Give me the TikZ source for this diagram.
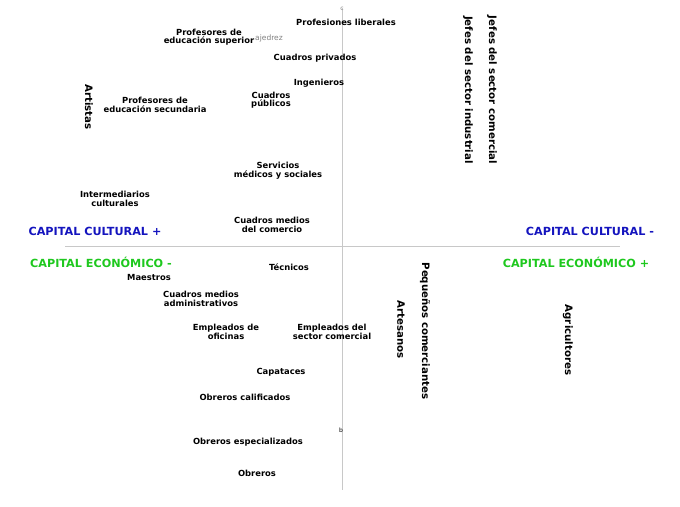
\documentclass[tikz,border=0pt]{standalone}
\usepackage{fontspec}
\setmainfont{DejaVu Sans}
\begin{document}
\begin{tikzpicture}[x=1pt,y=-1pt,
  lbl/.style={font=\bfseries\fontsize{8.4}{8.6}\selectfont,align=center,inner sep=0pt},
  big/.style={font=\bfseries\fontsize{10.2}{10}\selectfont,inner sep=0pt},
  vert/.style={big,rotate=-90},
  caplbl/.style={font=\bfseries\fontsize{11.2}{11}\selectfont,inner sep=0pt},
  cult/.style={caplbl,text={rgb,255:red,20;green,20;blue,190}},
  econ/.style={caplbl,text={rgb,255:red,30;green,200;blue,30}},
  axis/.style={draw={rgb,255:red,200;green,200;blue,200},line width=1pt}]
\useasboundingbox (0,0) rectangle (680,506);
\coordinate (top) at (342,8); \coordinate (bot) at (342,490);
\coordinate (lft) at (65,246); \coordinate (rgt) at (620,246);
\draw[axis] (top) -- (bot);
\draw[axis] (lft) -- (rgt);
\node[font=\fontsize{6}{6}\selectfont,text=gray] (c) at (342,9) {c};
\node[font=\fontsize{6}{6}\selectfont] (b) at (341,430) {b};
\node[font=\fontsize{7.5}{7.5}\selectfont,text=gray] (aj) at (269,38) {ajedrez};
\node[lbl] (pl) at (346,22) {Profesiones liberales};
\node[lbl] (pes) at (209,37) {Profesores de\\educación superior};
\node[lbl] (cp) at (315,58) {Cuadros privados};
\node[lbl] (ing) at (319,83) {Ingenieros};
\node[lbl] (cpu) at (271,100) {Cuadros\\públicos};
\node[vert] (art) at (89,107) {Artistas};
\node[lbl] (pese) at (155,105) {Profesores de\\educación secundaria};
\node[lbl] (sms) at (278,171) {Servicios\\médicos y sociales};
\node[lbl] (ic) at (115,199) {Intermediarios\\culturales};
\node[lbl] (cmc) at (272,225) {Cuadros medios\\del comercio};
\node[cult] (ccp) at (95,231) {CAPITAL CULTURAL +};
\node[cult] (ccm) at (590,231) {CAPITAL CULTURAL -};
\node[econ] (cem) at (101,262) {CAPITAL ECONÓMICO -};
\node[econ] (cep) at (576,262) {CAPITAL ECONÓMICO +};
\node[vert] (jsi) at (468,90) {Jefes del sector industrial};
\node[vert] (jsc) at (492,90) {Jefes del sector comercial};
\node[lbl] (tec) at (289,267) {Técnicos};
\node[lbl] (mae) at (149,277) {Maestros};
\node[lbl] (cma) at (201,299) {Cuadros medios\\administrativos};
\node[lbl] (eo) at (226,332) {Empleados de\\oficinas};
\node[lbl] (esc) at (332,332) {Empleados del\\sector comercial};
\node[lbl] (cap) at (281,372) {Capataces};
\node[lbl] (oc) at (245,397) {Obreros calificados};
\node[lbl] (oe) at (248,442) {Obreros especializados};
\node[lbl] (ob) at (257,473) {Obreros};
\node[vert] (artes) at (401,330) {Artesanos};
\node[vert] (pc) at (425,331) {Pequeños comerciantes};
\node[vert] (agr) at (568,340) {Agricultores};
\end{tikzpicture}
\end{document}
